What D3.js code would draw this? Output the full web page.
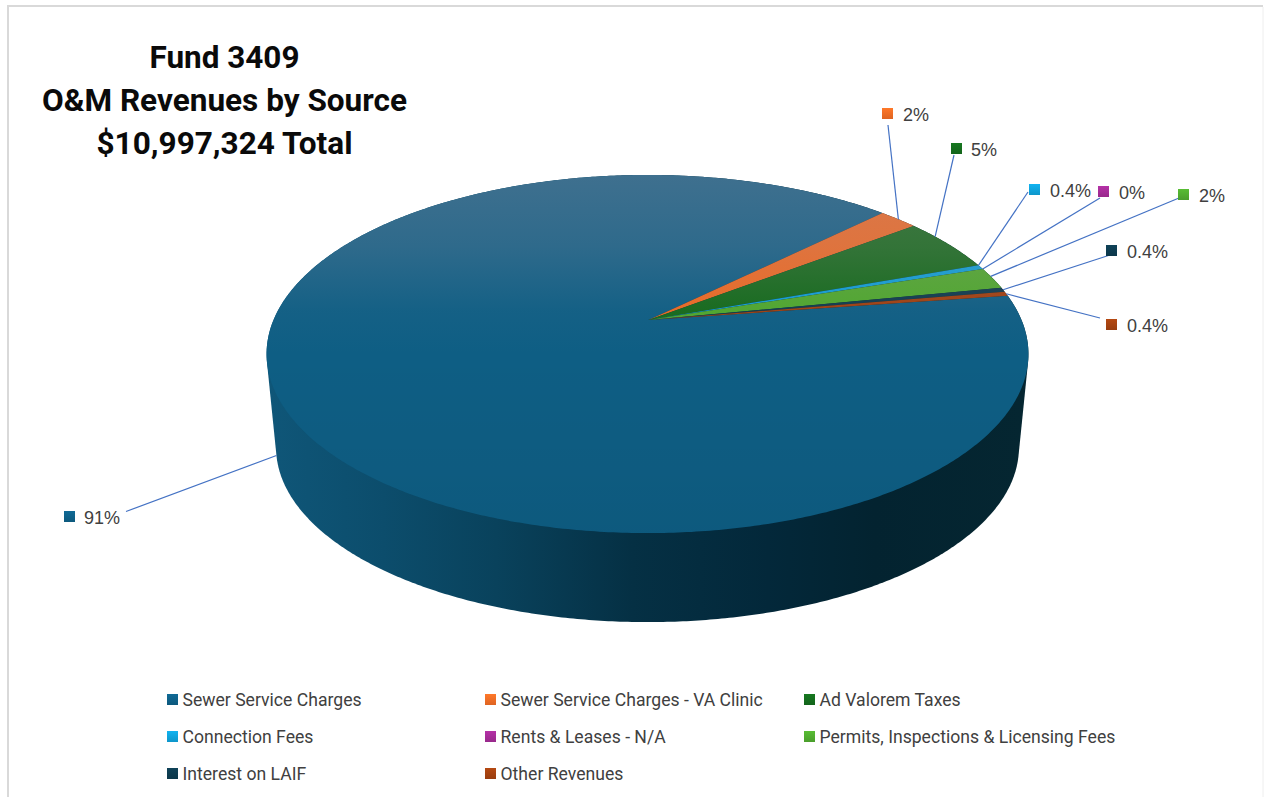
<!DOCTYPE html>
<html>
<head>
<meta charset="utf-8">
<script src="https://cdn.jsdelivr.net/npm/d3@7/dist/d3.min.js"></script>
<style>
html,body{margin:0;padding:0;background:#fff;overflow:hidden}
svg{display:block}
</style>
</head>
<body>
<svg id="chart" width="1266" height="797"></svg>
<script>
// Revenue sources and their shares of the fund total, in percent
const categories = ["Sewer Service Charges","Sewer Service Charges - VA Clinic","Ad Valorem Taxes","Connection Fees","Rents & Leases - N/A","Permits, Inspections & Licensing Fees","Interest on LAIF","Other Revenues"];
const shares = [91, 2, 5, 0.4, 0, 2, 0.4, 0.4];
const shareLabels = ["91%","2%","5%","0.4%","0%","2%","0.4%","0.4%"];
const sliceColors = ["#0E5E84","#EA6A24","#146A1C","#0F9ED5","#A02B93","#4EA72E","#0D3A4E","#A04010"];
const titleLines = ["Fund 3409","O&M Revenues by Source","$10,997,324 Total"];

// Perspective pie geometry: a tilted disc whose centre projects above the ellipse centre
const cx = 647.5, apexX = 648.5, apexY = 320, radius = 374, tilt = 0.19, ySlope = -111.8;
const depthScale = 0.975, faceMidY = 354, baseMidY = 447.5;

const project = a => {
  const u = Math.sin(a), v = Math.cos(a), w = 1 + tilt * v;
  return [cx + radius * u / w, (apexY + ySlope * v) / w];
};
const projectBase = a => {
  const [x, y] = project(a);
  return [cx + depthScale * (x - cx), baseMidY + depthScale * (y - faceMidY)];
};

const pie = d3.pie().sort(null).startAngle(81.7 * Math.PI / 180).endAngle((81.7 + 360) * Math.PI / 180);
const arcs = pie(shares);
const line = d3.line();
const rimSteps = d3.range(0, 721).map(i => i / 720 * 2 * Math.PI);

const svg = d3.select("#chart");
const defs = svg.append("defs");

// Shaded wall of the disc: dark toward the right-hand side
const wallGrad = defs.append("linearGradient").attr("id","wall").attr("gradientUnits","userSpaceOnUse")
  .attr("x1",270).attr("x2",1025).attr("y1",0).attr("y2",0);
[[0,"#0f5678"],[0.15,"#0c4d6c"],[0.3,"#09425c"],[0.48,"#053044"],[0.66,"#03283a"],[0.8,"#032330"],[1,"#052631"]]
  .forEach(([o,c]) => wallGrad.append("stop").attr("offset",o).attr("stop-color",c));

// Light falloff across the top face
const sheen = defs.append("linearGradient").attr("id","sheen").attr("gradientUnits","userSpaceOnUse")
  .attr("x1",0).attr("x2",0).attr("y1",175).attr("y2",533);
[[0,"#b09aa8",0.3],[0.2,"#b09aa8",0.2],[0.38,"#b09aa8",0.04],[0.5,"#b09aa8",0],[0.5,"#000",0],[1,"#000",0.05]]
  .forEach(([o,c,a]) => sheen.append("stop").attr("offset",o).attr("stop-color",c).attr("stop-opacity",a));

// Small vertical gradient for each key swatch
sliceColors.forEach((c,i) => {
  const g = defs.append("linearGradient").attr("id","key"+i).attr("x1",0).attr("x2",0).attr("y1",0).attr("y2",1);
  g.append("stop").attr("offset",0).attr("stop-color",d3.color(c).brighter(0.35));
  g.append("stop").attr("offset",1).attr("stop-color",d3.color(c).darker(0.15));
});

// Frame
svg.append("path").attr("d","M8,797V6H1263").attr("fill","none").attr("stroke","#d9d9d9").attr("stroke-width",2);
svg.append("path").attr("d","M1263,7V797").attr("fill","none").attr("stroke","#eeeeee").attr("stroke-width",1);

// Title
svg.append("g").selectAll("text").data(titleLines).join("text")
  .attr("x",224.5).attr("y",(d,i)=>[68,111,154][i])
  .attr("text-anchor","middle")
  .attr("font-family","Roboto").attr("font-weight",700).attr("font-size",31)
  .attr("textLength",(d,i)=>[150,365,256][i]).attr("lengthAdjust","spacingAndGlyphs")
  .attr("fill","#0a0a0a").text(d=>d);

// Wall: hull of the upper and lower rims
const hull = d3.polygonHull(rimSteps.map(project).concat(rimSteps.map(projectBase)));
svg.append("path").attr("d",line(hull)+"Z").attr("fill","url(#wall)");

// Top face slices
const wedge = d => {
  const n = Math.max(2, Math.ceil((d.endAngle - d.startAngle) / 0.01));
  const rim = d3.range(n + 1).map(i => project(d.startAngle + (d.endAngle - d.startAngle) * i / n));
  return line([[apexX, apexY], ...rim]) + "Z";
};
svg.append("g").selectAll("path").data(arcs.filter(d=>d.value>0)).join("path")
  .attr("d",wedge)
  .attr("fill",d=>sliceColors[d.index]);
svg.append("path").attr("d",line(rimSteps.map(project))+"Z").attr("fill","url(#sheen)");

// Callouts: swatch corner and the point where each leader line leaves it
const calloutAt = [[64,511,126,511.5],[882,108,888,125],[951,143,954,155],[1029,184,1028,192],[1098,186,1100,198],[1178,189,1179,198],[1106,245,1110,255],[1106,319,1100,318]];
const calloutGap = [20,21,20,21,21,21,21,21];
// How far along each slice its leader line lands on the rim
const leaderShare = [0.54,0.5,0.3,0,0,0.4,0.5,0.5];
const anchor = d => {
  const a = d.startAngle + (d.endAngle - d.startAngle) * leaderShare[d.index];
  return d.index === 0 ? projectBase(a) : project(a);
};
const callouts = svg.append("g").selectAll("g").data(arcs).join("g");
callouts.append("line")
  .attr("x1",d=>anchor(d)[0]).attr("y1",d=>anchor(d)[1])
  .attr("x2",d=>calloutAt[d.index][2]).attr("y2",d=>calloutAt[d.index][3])
  .attr("stroke","#4472c4").attr("stroke-width",1.2);
callouts.append("rect")
  .attr("x",d=>calloutAt[d.index][0]).attr("y",d=>calloutAt[d.index][1])
  .attr("width",11).attr("height",11).attr("fill",d=>`url(#key${d.index})`);
callouts.append("text")
  .attr("x",d=>calloutAt[d.index][0]+calloutGap[d.index]).attr("y",d=>calloutAt[d.index][1]+12.5)
  .attr("font-family","Liberation Sans").attr("font-size",18).attr("fill","#404040")
  .text(d=>shareLabels[d.index]);

// Legend, three columns wide
const legendX = [167,485,804], legendY = [700,737,774];
const legend = svg.append("g").selectAll("g").data(categories).join("g")
  .attr("transform",(d,i)=>`translate(${legendX[i%3]},${legendY[Math.floor(i/3)]})`);
legend.append("rect").attr("x",0).attr("y",-6).attr("width",11).attr("height",11)
  .attr("fill",(d,i)=>`url(#key${i})`);
legend.append("text").attr("x",15.5).attr("y",6)
  .attr("font-family","Roboto").attr("font-size",17.6).attr("fill","#404040")
  .text(d=>d);
</script>
</body>
</html>
